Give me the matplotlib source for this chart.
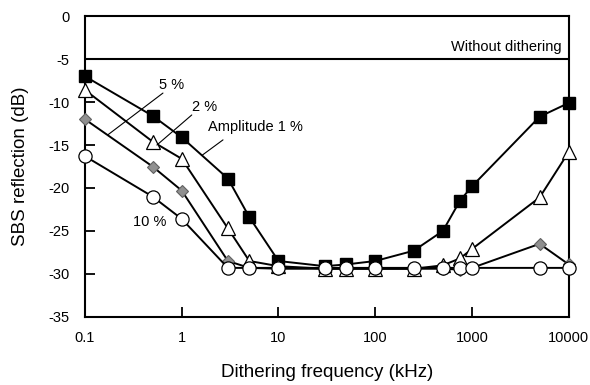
import matplotlib
matplotlib.use('Agg')
from matplotlib import pyplot as plt
from matplotlib.ticker import FixedLocator, FixedFormatter

plt.rcParams['font.family'] = ['Liberation Sans', 'DejaVu Sans']

# Dithering frequency (kHz)
freq = [0.1, 0.5, 1, 3, 5, 10, 30, 50, 100, 250, 500, 750, 1000, 5000, 10000]
# SBS reflection (dB) for each dithering amplitude
amp_1 = [-7.0, -11.6, -14.1, -18.9, -23.4, -28.5, -29.1, -28.9, -28.5, -27.3, -25.0, -21.5, -19.8, -11.7, -10.1]
amp_2 = [-8.6, -14.6, -16.6, -24.7, -28.5, -29.1, -29.4, -29.4, -29.4, -29.4, -29.0, -28.2, -27.1, -21.1, -15.8]
amp_5 = [-12.0, -17.5, -20.3, -28.5, -29.3, -29.4, -29.4, -29.4, -29.4, -29.4, -29.4, -29.5, -29.3, -26.5, -28.9]
amp_10 = [-16.3, -21.0, -23.6, -29.3, -29.3, -29.3, -29.3, -29.3, -29.3, -29.3, -29.3, -29.3, -29.3, -29.3, -29.3]
without_dithering = -5.0

x_ticks = [0.1, 1, 10, 100, 1000, 10000]
x_labels = ['0.1', '1', '10', '100', '1000', '10000']
y_ticks = [0, -5, -10, -15, -20, -25, -30, -35]

fig = plt.figure(figsize=(5.9, 3.85), dpi=100)
ax = fig.add_axes([0.144, 0.177, 0.82, 0.781])

ax.axhline(without_dithering, color='black', lw=1.5, zorder=1)
ax.plot(freq, amp_1, '-s', color='black', lw=1.4, ms=9, mfc='black', mec='black', zorder=2, clip_on=False)
ax.plot(freq, amp_2, '-^', color='black', lw=1.4, ms=9.5, mfc='white', mec='black', mew=0.9, zorder=3, clip_on=False)
ax.plot(freq, amp_5, '-D', color='black', lw=1.4, ms=6.5, mfc='#909090', mec='#606060', mew=0.8, zorder=4, clip_on=False)
ax.plot(freq, amp_10, '-o', color='black', lw=1.4, ms=9.5, mfc='white', mec='black', mew=0.9, zorder=5, clip_on=False)

ax.set_xscale('log')
ax.set_xlim(0.1, 10000)
ax.set_ylim(-35, 0)
ax.xaxis.set_major_locator(FixedLocator(x_ticks))
ax.xaxis.set_major_formatter(FixedFormatter(x_labels))
ax.xaxis.set_minor_locator(FixedLocator([]))
ax.set_yticks(y_ticks)
ax.set_yticklabels([str(v) for v in y_ticks])
ax.tick_params(axis='both', direction='in', length=7, width=1.3, labelsize=10.5)
ax.tick_params(axis='y', pad=11)
ax.tick_params(axis='x', pad=10)

for sp in ax.spines.values():
    sp.set_linewidth(1.5)

ax.set_xlabel('Dithering frequency (kHz)', fontsize=13.5, labelpad=14)
ax.set_ylabel('SBS reflection (dB)', fontsize=13.5, labelpad=14)

# Labels and leader lines
ax.text(8470, -3.6, 'Without dithering', ha='right', va='center', fontsize=10.5)
ax.text(0.79, -8.0, '5 %', ha='center', va='center', fontsize=10.5)
ax.text(1.74, -10.6, '2 %', ha='center', va='center', fontsize=10.5)
ax.text(1.87, -12.9, 'Amplitude 1 %', ha='left', va='center', fontsize=10.5)
ax.text(0.47, -24.0, '10 %', ha='center', va='center', fontsize=10.5)

line_kw = dict(arrowstyle='-', lw=0.8, color='black', shrinkA=0, shrinkB=0)
ax.annotate('', xy=(0.173, -13.8), xytext=(0.64, -8.95), arrowprops=line_kw)
ax.annotate('', xy=(0.554, -15.0), xytext=(1.27, -11.5), arrowprops=line_kw)
ax.annotate('', xy=(1.62, -16.2), xytext=(2.67, -14.4), arrowprops=line_kw)

fig.savefig('out.png', dpi=100)
